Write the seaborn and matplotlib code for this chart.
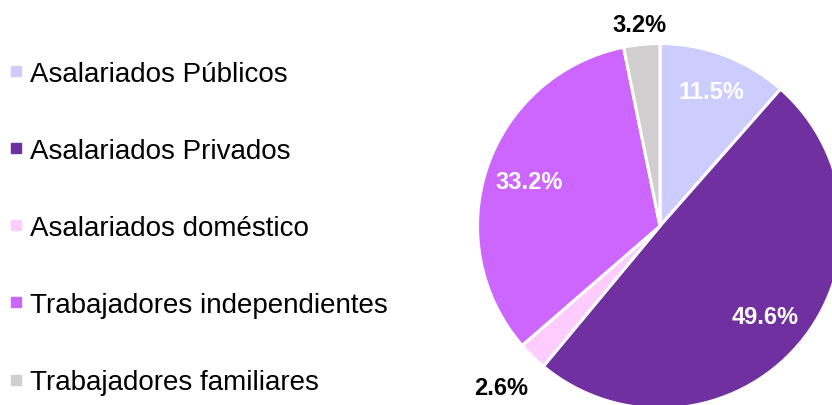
import numpy as np
import matplotlib
matplotlib.use("Agg")
import matplotlib.pyplot as plt
from matplotlib.lines import Line2D
import seaborn as sns

# data
categories = ["Asalariados Públicos", "Asalariados Privados", "Asalariados doméstico",
              "Trabajadores independientes", "Trabajadores familiares"]
shares = [11.5, 49.6, 2.6, 33.2, 3.2]
colors = ["#CCCCFF", "#7030A0", "#FFCCFF", "#CC66FF", "#D0CECE"]
label_colors = ["white", "white", "black", "white", "black"]
label_dist = [0.79, 0.76, 1.24, 0.76, 1.11]

sns.set_style("white")
plt.rcParams["font.family"] = ["Liberation Sans", "DejaVu Sans"]
palette = sns.color_palette(colors)

fig = plt.figure(figsize=(8.32, 4.06), dpi=100)
ax = fig.add_axes([0, 0, 1, 1])

cx, cy, R = 660, 179, 182.5
wedges, _ = ax.pie(shares, colors=palette, startangle=90, counterclock=False,
                   center=(cx, cy), radius=R,
                   wedgeprops=dict(edgecolor="white", linewidth=2.2))
ax.set_xlim(0, 832)
ax.set_ylim(0, 406)
ax.set_aspect("equal")
ax.axis("off")

# percent labels along each wedge's mid angle
for w, val, c, d in zip(wedges, shares, label_colors, label_dist):
    mid = np.deg2rad((w.theta1 + w.theta2) / 2)
    ax.text(cx + d * R * np.cos(mid), cy + d * R * np.sin(mid), f"{val:.1f}%",
            ha="center", va="center", fontsize=17, fontweight="bold", color=c)

# legend
handles = [Line2D([], [], marker="s", linestyle="none", markersize=6.5,
                  markerfacecolor=col, markeredgecolor=col) for col in palette]
leg = fig.legend(handles, categories, loc="upper left", bbox_to_anchor=(-0.006, 0.875),
                 frameon=False, fontsize=20, labelspacing=1.84, handlelength=0.7,
                 handletextpad=0.15, borderaxespad=0)
for t in leg.get_texts():
    t.set_color("black")

fig.savefig("out.png", dpi=100)
